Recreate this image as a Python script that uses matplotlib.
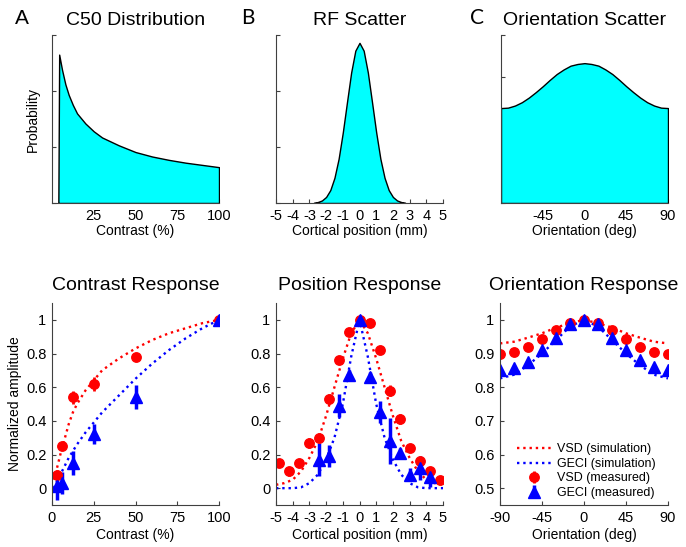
import matplotlib
matplotlib.use("Agg")
import matplotlib.pyplot as plt

plt.rcParams['font.family'] = ['Liberation Sans', 'DejaVu Sans']
plt.rcParams['axes.unicode_minus'] = False

# ---- top row: model distributions
c50_contrast = [3.8, 4.3, 6, 8, 10, 12.5, 15, 20, 25, 30, 40, 50, 60, 70, 80, 90, 100]
c50_prob = [0.0, 2.65, 2.38, 2.12, 1.93, 1.75, 1.6, 1.42, 1.28, 1.17, 1.03, 0.91, 0.83, 0.77, 0.72, 0.68, 0.64]

rf_pos = [-2.75, -2.5, -2.25, -2.0, -1.75, -1.5, -1.25, -1.0, -0.75, -0.5, -0.25, 0.0,
          0.25, 0.5, 0.75, 1.0, 1.25, 1.5, 1.75, 2.0, 2.25, 2.5, 2.75]
rf_density = [0.0, 0.017, 0.045, 0.108, 0.23, 0.45, 0.79, 1.26, 1.80, 2.33, 2.72, 2.86,
              2.72, 2.33, 1.80, 1.26, 0.79, 0.45, 0.23, 0.108, 0.045, 0.017, 0.0]

ori_scatter_deg = [-90, -82.5, -75, -67.5, -60, -52.5, -45, -37.5, -30, -22.5, -15, -7.5, 0,
                   7.5, 15, 22.5, 30, 37.5, 45, 52.5, 60, 67.5, 75, 82.5, 90]
ori_density = [2.26, 2.27, 2.32, 2.40, 2.51, 2.64, 2.78, 2.93, 3.07, 3.18, 3.27, 3.31, 3.33,
               3.31, 3.27, 3.18, 3.07, 2.93, 2.78, 2.64, 2.51, 2.40, 2.32, 2.27, 2.26]

# ---- bottom row: contrast response
contrast = [3.125, 6.25, 12.5, 25, 50, 100]
vsd_contrast = [0.08, 0.25, 0.54, 0.62, 0.78, 1.0]
vsd_contrast_err = [0.03, 0.02, 0.04, 0.04, 0.02, 0.0]
geci_contrast = [0.01, 0.03, 0.15, 0.32, 0.54, 1.0]
geci_contrast_err = [0.08, 0.065, 0.07, 0.06, 0.07, 0.0]

sim_contrast = [1, 2.5, 5, 7.5, 10, 12.5, 15, 20, 25, 30, 40, 50, 60, 70, 80, 90, 100]
vsd_sim_contrast = [0.05, 0.1, 0.2, 0.29, 0.38, 0.45, 0.5, 0.58, 0.64, 0.7, 0.77, 0.83, 0.88, 0.92, 0.95, 0.98, 1.0]
geci_sim_contrast = [0.0, 0.03, 0.08, 0.13, 0.18, 0.22, 0.26, 0.33, 0.39, 0.45, 0.55, 0.65, 0.74, 0.82, 0.89, 0.95, 1.0]

# ---- position response
vsd_pos = [-4.8, -4.2, -3.6, -3.0, -2.4, -1.8, -1.2, -0.6, 0.0, 0.6, 1.2, 1.8, 2.4, 3.0, 3.6, 4.2, 4.8]
vsd_position = [0.15, 0.10, 0.15, 0.27, 0.30, 0.53, 0.76, 0.93, 1.0, 0.98, 0.82, 0.58, 0.41, 0.24, 0.16, 0.10, 0.05]
vsd_position_err = [0.025, 0.025, 0.02, 0.03, 0.025, 0.03, 0.025, 0.02, 0.0, 0.02, 0.02, 0.03, 0.03, 0.02, 0.025, 0.025, 0.02]
geci_pos = [-2.4, -1.8, -1.2, -0.6, 0.0, 0.6, 1.2, 1.8, 2.4, 3.0, 3.6, 4.2]
geci_position = [0.17, 0.19, 0.49, 0.67, 1.0, 0.66, 0.45, 0.28, 0.21, 0.08, 0.12, 0.065]
geci_position_err = [0.10, 0.065, 0.07, 0.03, 0.0, 0.03, 0.065, 0.135, 0.03, 0.04, 0.07, 0.06]

sim_pos = [-5, -4.5, -4, -3.5, -3, -2.5, -2, -1.5, -1, -0.5, 0, 0.5, 1, 1.5, 2, 2.5, 3, 3.5, 4, 4.5, 5]
vsd_sim_position = [0.02, 0.03, 0.05, 0.10, 0.18, 0.28, 0.43, 0.60, 0.77, 0.92, 1.0,
                    0.92, 0.77, 0.60, 0.43, 0.28, 0.18, 0.10, 0.05, 0.03, 0.02]
geci_sim_position = [0.0, 0.0, 0.0, 0.005, 0.03, 0.08, 0.17, 0.30, 0.50, 0.78, 1.0,
                     0.78, 0.50, 0.30, 0.17, 0.08, 0.03, 0.005, 0.0, 0.0, 0.0]

# ---- orientation response
ori = [-90, -75, -60, -45, -30, -15, 0, 15, 30, 45, 60, 75, 90]
vsd_ori = [0.90, 0.905, 0.92, 0.943, 0.97, 0.99, 1.0, 0.99, 0.97, 0.943, 0.92, 0.905, 0.90]
vsd_ori_err = [0.004] * 13
geci_ori = [0.85, 0.857, 0.876, 0.91, 0.945, 0.987, 1.0, 0.988, 0.947, 0.91, 0.88, 0.86, 0.85]
geci_ori_err = [0.005] * 13
vsd_sim_ori = [0.93, 0.935, 0.947, 0.96, 0.977, 0.99, 1.0, 0.99, 0.977, 0.96, 0.947, 0.935, 0.93]
geci_sim_ori = [0.826, 0.837, 0.865, 0.9, 0.94, 0.98, 1.0, 0.98, 0.94, 0.9, 0.865, 0.837, 0.826]

W, H = 686, 547
fig = plt.figure(figsize=(W / 100, H / 100), dpi=100)


def px_axes(left, right, top, bottom):
    return fig.add_axes([left / W, 1 - bottom / H, (right - left) / W, (bottom - top) / H])


def style(ax):
    for s in ['top', 'right']:
        ax.spines[s].set_visible(False)
    for s in ['left', 'bottom']:
        ax.spines[s].set_linewidth(0.8)
        ax.spines[s].set_color('#404040')
    ax.tick_params(direction='in', length=3, width=0.8, color='#404040', labelsize=10.5, pad=4)
    ax.set_axisbelow(True)


# top row
axA = px_axes(52, 219, 35, 203)
axA.fill_between(c50_contrast, c50_prob, 0, facecolor='cyan', edgecolor='black', lw=1)
axA.set_xlim(0, 100)
axA.set_ylim(0, 3)
axA.set_xticks([25, 50, 75, 100])
axA.set_yticks([0, 1, 2, 3])
axA.set_yticklabels([])
axA.set_xlabel('Contrast (%)', fontsize=10)
axA.set_ylabel('Probability', fontsize=10)
axA.yaxis.set_label_coords(-0.072, 0.5)
axA.set_title('C50 Distribution', fontsize=14, pad=7)

axB = px_axes(276, 443, 35, 203)
axB.fill_between(rf_pos, rf_density, 0, facecolor='cyan', edgecolor='black', lw=1)
axB.set_xlim(-5, 5)
axB.set_ylim(0, 3)
axB.set_xticks(range(-5, 6))
axB.set_yticks([0, 1, 2, 3])
axB.set_yticklabels([])
axB.set_xlabel('Cortical position (mm)', fontsize=10)
axB.set_title('RF Scatter', fontsize=14, pad=7)

axC = px_axes(501, 668, 35, 203)
axC.fill_between(ori_scatter_deg, ori_density, 0, facecolor='cyan', edgecolor='black', lw=1)
axC.set_xlim(-90, 90)
axC.set_ylim(0, 4)
axC.set_xticks([-45, 0, 45, 90])
axC.set_yticks([0, 1, 2, 3, 4])
axC.set_yticklabels([])
axC.set_xlabel('Orientation (deg)', fontsize=10)
axC.set_title('Orientation Scatter', fontsize=14, pad=7)

for ax in (axA, axB, axC):
    style(ax)
    ax.xaxis.set_label_coords(0.5, -0.125)

# bottom row
ms_c, ms_t = 6.8, 9


def responses(ax, x_sim, vsd_sim, geci_sim, xv, yv, ev, xg, yg, eg):
    l1, = ax.plot(x_sim, vsd_sim, ':', color='red', lw=1.7)
    l2, = ax.plot(x_sim, geci_sim, ':', color='blue', lw=1.7)
    e1 = ax.errorbar(xv, yv, yerr=ev, fmt='o', color='red', ms=ms_c, elinewidth=2, capsize=0)
    e2 = ax.errorbar(xg, yg, yerr=eg, fmt='^', color='blue', ms=ms_t, elinewidth=2.5, capsize=0)
    return l1, l2, e1, e2


ax1 = px_axes(52, 219, 303, 505)
responses(ax1, sim_contrast, vsd_sim_contrast, geci_sim_contrast,
          contrast, vsd_contrast, vsd_contrast_err, contrast, geci_contrast, geci_contrast_err)
ax1.set_xlim(0, 100)
ax1.set_xticks([0, 25, 50, 75, 100])
ax1.set_ylim(-0.1, 1.1)
ax1.set_yticks([0, 0.2, 0.4, 0.6, 0.8, 1])
ax1.set_yticklabels(['0', '0.2', '0.4', '0.6', '0.8', '1'])
ax1.set_xlabel('Contrast (%)', fontsize=10)
ax1.set_ylabel('Normalized amplitude', fontsize=10)
ax1.yaxis.set_label_coords(-0.18, 0.5)
ax1.set_title('Contrast Response', fontsize=14, pad=9)

ax2 = px_axes(276, 443, 303, 505)
responses(ax2, sim_pos, vsd_sim_position, geci_sim_position,
          vsd_pos, vsd_position, vsd_position_err, geci_pos, geci_position, geci_position_err)
ax2.set_xlim(-5, 5)
ax2.set_xticks(range(-5, 6))
ax2.set_ylim(-0.1, 1.1)
ax2.set_yticks([0, 0.2, 0.4, 0.6, 0.8, 1])
ax2.set_yticklabels(['0', '0.2', '0.4', '0.6', '0.8', '1'])
ax2.set_xlabel('Cortical position (mm)', fontsize=10)
ax2.set_title('Position Response', fontsize=14, pad=9)

ax3 = px_axes(500, 668, 303, 505)
h = responses(ax3, ori, vsd_sim_ori, geci_sim_ori,
              ori, vsd_ori, vsd_ori_err, ori, geci_ori, geci_ori_err)
ax3.set_xlim(-90, 90)
ax3.set_xticks([-90, -45, 0, 45, 90])
ax3.set_ylim(0.45, 1.05)
ax3.set_yticks([0.5, 0.6, 0.7, 0.8, 0.9, 1])
ax3.set_yticklabels(['0.5', '0.6', '0.7', '0.8', '0.9', '1'])
ax3.set_xlabel('Orientation (deg)', fontsize=10)
ax3.set_title('Orientation Response', fontsize=14, pad=9)
ax3.legend(h, ['VSD (simulation)', 'GECI (simulation)', 'VSD (measured)', 'GECI (measured)'],
           loc='lower right', bbox_to_anchor=(0.925, 0.03), frameon=False, fontsize=9,
           handlelength=2.8, handletextpad=0.4, labelspacing=0.2, borderpad=0, borderaxespad=0,
           numpoints=1)

for ax in (ax1, ax2, ax3):
    style(ax)
    ax.xaxis.set_label_coords(0.5, -0.112)

fig.text(22 / W, 1 - 18 / H, 'A', fontsize=15, ha='center', va='center')
fig.text(248 / W, 1 - 18 / H, 'B', fontsize=15, ha='center', va='center', family=['Lato', 'DejaVu Sans'])
fig.text(477 / W, 1 - 18 / H, 'C', fontsize=15, ha='center', va='center', family=['Lato', 'DejaVu Sans'])

fig.savefig('out.png', dpi=100)
